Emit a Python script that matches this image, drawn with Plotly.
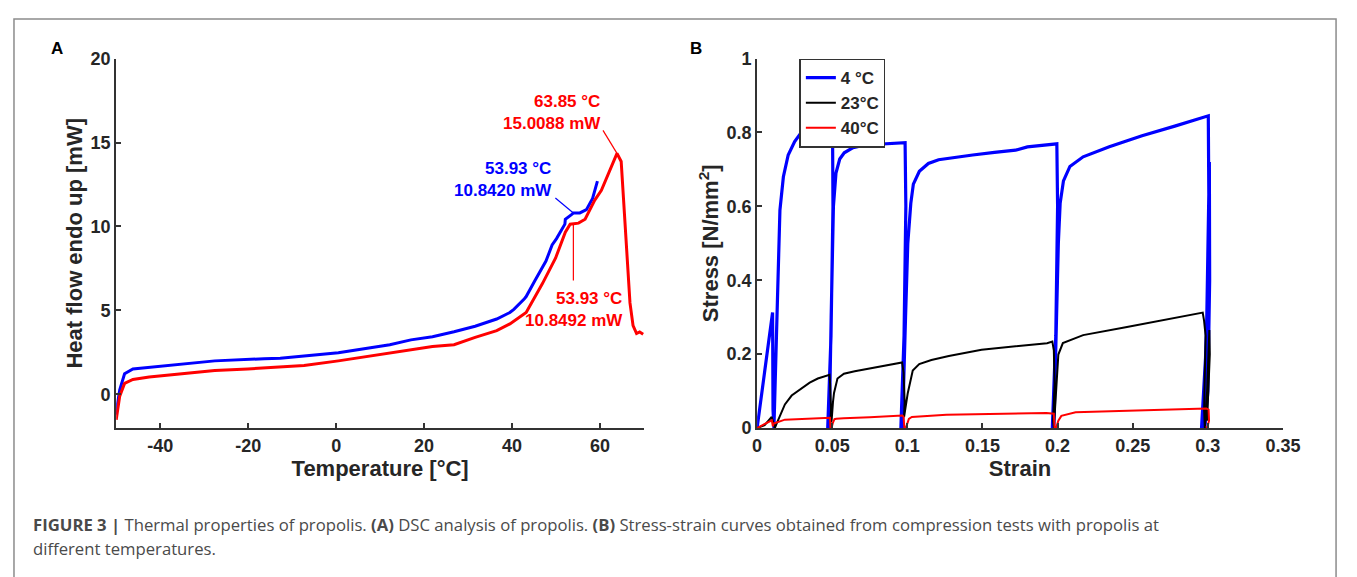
import numpy as np
import plotly.graph_objects as go

# ---------------- Panel A: DSC data ----------------
dsc_blue_T = [-50, -49.9, -49.2, -48.1, -46.2, -42.5, -35, -27.6, -16.4, -12.7, -7.3, 0.5, 12.2, 17.0,
              21.9, 26.8, 31.6, 36.5, 39.5, 40.4, 42.8, 43.2, 45.2, 46.9, 47.7, 49.1, 50.1, 52.0, 52.1,
              53.5, 53.93, 55.4, 56.9, 58.3, 59.4]
dsc_blue_H = [-1.2, -0.87, 0.28, 1.23, 1.52, 1.62, 1.81, 2.0, 2.13, 2.15, 2.29, 2.48, 2.96, 3.25,
              3.44, 3.73, 4.06, 4.49, 4.88, 5.07, 5.7, 5.83, 6.79, 7.55, 7.94, 8.9, 9.28, 10.14, 10.43,
              10.71, 10.8, 10.81, 11.0, 11.67, 12.7]

dsc_red_T = [-50, -49.2, -48.1, -46.2, -42.5, -35, -27.6, -20.1, -12.7, -7.3, 0.5, 12.2, 21.9, 26.8,
             31.6, 36.5, 39.5, 43.2, 46.9, 49.9, 52.1, 53.2, 53.93, 55.1, 56.6, 58.8, 60.3, 63.3, 63.85,
             64.8, 65.2, 66.0, 66.8, 67.5, 68.3, 69.0, 69.8]
dsc_red_H = [-1.5, -0.1, 0.66, 0.89, 1.04, 1.23, 1.43, 1.52, 1.66, 1.72, 2.0, 2.48, 2.86, 2.96,
             3.4, 3.8, 4.2, 4.88, 6.6, 8.13, 9.66, 10.14, 10.18, 10.2, 10.43, 11.57, 12.15, 14.06, 14.35,
             13.87, 12.15, 8.32, 5.45, 4.1, 3.63, 3.72, 3.59]

dsc_xticks = [-40, -20, 0, 20, 40, 60]
dsc_xtext = ["-40", "-20", "0", "20", "40", "60"]
dsc_yticks = [0, 5, 10, 15, 20]

# annotated points (text values as printed in the figure)
peak_T, peak_label = 63.85, "63.85 °C<br>15.0088 mW"
blue_T, blue_label = 53.93, "53.93 °C<br>10.8420 mW"
red_T, red_label = 53.93, "53.93 °C<br>10.8492 mW"

# ---------------- Panel B: stress-strain ----------------
b4_strain = [0, 0.004, 0.0075, 0.0103, 0.0106, 0.0108, 0.0112, 0.0135, 0.0152, 0.0175, 0.0207, 0.025,
             0.0294, 0.035, 0.0404, 0.046, 0.0502,
             0.0505, 0.0492, 0.0470, 0.0480, 0.0493, 0.0502, 0.0508, 0.0525, 0.055, 0.058, 0.0639,
             0.072, 0.085, 0.0985,
             0.0990, 0.0978, 0.0957, 0.0967, 0.0988, 0.1003, 0.1023, 0.104, 0.108, 0.114, 0.1208, 0.13,
             0.1435, 0.158, 0.172, 0.1799, 0.1995,
             0.2000, 0.1988, 0.1965, 0.1975, 0.1993, 0.2005, 0.2017, 0.2039, 0.2082, 0.217, 0.2344,
             0.2562, 0.278, 0.2998, 0.3003,
             0.3007, 0.2993, 0.2958, 0.2970, 0.2993, 0.301, 0.3012, 0.300, 0.2980]
b4_stress = [0, 0.12, 0.23, 0.313, 0.05, 0.0, 0.0, 0.34, 0.59, 0.68, 0.739, 0.775,
             0.80, 0.81, 0.813, 0.815, 0.818,
             0.6, 0.25, 0.0, 0.0, 0.3, 0.5, 0.6, 0.69, 0.728, 0.745, 0.759,
             0.766, 0.769, 0.772,
             0.6, 0.25, 0.0, 0.0, 0.3, 0.5, 0.608, 0.66, 0.695, 0.716, 0.726, 0.732,
             0.739, 0.746, 0.752, 0.761, 0.769,
             0.6, 0.25, 0.0, 0.0, 0.3, 0.5, 0.608, 0.669, 0.708, 0.734, 0.761,
             0.791, 0.817, 0.843, 0.845,
             0.6, 0.25, 0.0, 0.0, 0.3, 0.72, 0.4, 0.1, 0.0]

b23_strain = [0, 0.005, 0.0097, 0.0108, 0.0118, 0.013, 0.0155, 0.0185, 0.023, 0.0294, 0.035, 0.0404,
              0.0469, 0.0482,
              0.0486, 0.0492, 0.0488, 0.0496, 0.0505, 0.0512, 0.0535, 0.0578, 0.065, 0.0731, 0.085,
              0.0965,
              0.0975, 0.0982, 0.0978, 0.0988, 0.1003, 0.1036, 0.1079, 0.116, 0.1276, 0.1494, 0.172,
              0.193, 0.1965,
              0.1975, 0.198, 0.197, 0.1975, 0.199, 0.2005, 0.2035, 0.217, 0.2453, 0.27, 0.2955, 0.2966,
              0.2975, 0.2985, 0.2975, 0.298, 0.2995, 0.301, 0.3013, 0.2995]
b23_stress = [0, 0.008, 0.03, 0.012, 0.0, 0.012, 0.038, 0.064, 0.088, 0.108, 0.123, 0.134,
              0.143, 0.144,
              0.12, 0.05, 0.015, 0.02, 0.07, 0.095, 0.134, 0.147, 0.154, 0.160, 0.169,
              0.1775,
              0.15, 0.07, 0.03, 0.06, 0.095, 0.156, 0.173, 0.184, 0.195, 0.212, 0.222,
              0.2298, 0.234,
              0.21, 0.12, 0.02, 0.0, 0.1, 0.199, 0.2298, 0.2515, 0.273, 0.292, 0.3107, 0.3125,
              0.29, 0.25, 0.05, 0.0, 0.1, 0.265, 0.2, 0.02]

b40_strain = [0, 0.005, 0.0098, 0.0105, 0.011, 0.0185, 0.03, 0.0468, 0.0485, 0.0488, 0.0495, 0.0505,
              0.0515, 0.0527, 0.0576, 0.075, 0.0967, 0.0975, 0.098, 0.099, 0.1, 0.101, 0.103, 0.126,
              0.1925, 0.1975, 0.198, 0.199, 0.2005, 0.2025, 0.212, 0.299, 0.3005, 0.3008, 0.2995, 0.299]
b40_stress = [0, 0.01, 0.021, 0.005, 0.012, 0.0227, 0.025, 0.0296, 0.028, 0.0, 0.0, 0.015,
              0.024, 0.025, 0.0265, 0.029, 0.034, 0.03, 0.0, 0.0, 0.015, 0.025, 0.030, 0.036,
              0.041, 0.039, 0.0, 0.0, 0.02, 0.033, 0.043, 0.053, 0.05, 0.02, 0.0, 0.005]

ss_xticks = [0, 0.05, 0.1, 0.15, 0.2, 0.25, 0.3, 0.35]
ss_xtext = ["0", "0.05", "0.1", "0.15", "0.2", "0.25", "0.3", "0.35"]
ss_yticks = [0, 0.2, 0.4, 0.6, 0.8, 1]
ss_ytext = ["0", "0.2", "0.4", "0.6", "0.8", "1"]

caption_1 = ("<b>FIGURE 3 |</b> Thermal properties of propolis. <b>(A)</b> DSC analysis of propolis. "
             "<b>(B)</b> Stress-strain curves obtained from compression tests with propolis at")
caption_2 = "different temperatures."

# ---------------- Figure ----------------
# The page body keeps its default 8 px margin, so the figure is 8 px smaller on each side
# and all layout positions below are expressed in window pixels.
PAGE_W, PAGE_H, OFF = 1357, 577, 8
W, H = PAGE_W - OFF, PAGE_H - OFF
BLUE, RED, BLACK = "#0000ff", "#ff0000", "#000000"
AX = "#333333"
TXT = "#262626"
FONT = "Liberation Sans, Arial, sans-serif"


def px_x(p):
    return (p - OFF) / W


def px_y(p):
    return 1 - (p - OFF) / H


fig = go.Figure()
fig.add_trace(go.Scatter(x=dsc_blue_T, y=dsc_blue_H, mode="lines", line=dict(color=BLUE, width=3),
                         showlegend=False, xaxis="x", yaxis="y"))
fig.add_trace(go.Scatter(x=dsc_red_T, y=dsc_red_H, mode="lines", line=dict(color=RED, width=3),
                         showlegend=False, xaxis="x", yaxis="y"))

fig.add_trace(go.Scatter(x=b4_strain, y=b4_stress, mode="lines", name="4 °C",
                         line=dict(color=BLUE, width=3.2), xaxis="x2", yaxis="y2"))
fig.add_trace(go.Scatter(x=b23_strain, y=b23_stress, mode="lines", name="23°C",
                         line=dict(color=BLACK, width=2), xaxis="x2", yaxis="y2"))
fig.add_trace(go.Scatter(x=b40_strain, y=b40_stress, mode="lines", name="40°C",
                         line=dict(color=RED, width=2), xaxis="x2", yaxis="y2"))

axis_common = dict(showline=True, linecolor=AX, linewidth=2, ticks="inside", ticklen=5,
                   tickwidth=1.5, tickcolor=AX, showgrid=False, zeroline=False, mirror=False,
                   tickfont=dict(family=FONT, size=18, color=TXT, weight="bold"))
title_font = dict(family=FONT, size=22, color=TXT, weight="bold")

fig.update_layout(
    width=W, height=H, margin=dict(l=0, r=0, t=0, b=0),
    paper_bgcolor="white", plot_bgcolor="white",
    xaxis=dict(domain=[px_x(113), px_x(650)], range=[-50, 70], tickvals=dsc_xticks,
               ticktext=dsc_xtext, anchor="y",
               title=dict(text="Temperature [°C]", font=title_font, standoff=4),
               **axis_common),
    yaxis=dict(domain=[px_y(433), px_y(50)], range=[-2, 20], tickvals=dsc_yticks,
               anchor="x", title=dict(text="Heat flow endo up [mW]", font=title_font, standoff=2),
               **axis_common),
    xaxis2=dict(domain=[px_x(765), px_x(1300)], range=[0, 0.35], tickvals=ss_xticks,
                ticktext=ss_xtext, anchor="y2",
                title=dict(text="Strain", font=title_font, standoff=4), **axis_common),
    yaxis2=dict(domain=[px_y(433), px_y(50)], range=[0, 1], tickvals=ss_yticks,
                ticktext=ss_ytext, anchor="x2",
                title=dict(text="Stress [N/mm<sup>2</sup>]", font=title_font, standoff=2),
                **axis_common),
    legend=dict(x=px_x(808), y=px_y(50), xanchor="left", yanchor="top",
                bgcolor="white", bordercolor=AX, borderwidth=1.5,
                font=dict(family=FONT, size=17, color=TXT, weight="bold"),
                itemwidth=30, tracegroupgap=0),
    showlegend=True,
)

ann_font_r = dict(family=FONT, size=17, color=RED, weight="bold")
ann_font_b = dict(family=FONT, size=17, color=BLUE, weight="bold")

peak_H = float(np.interp(peak_T, dsc_red_T, dsc_red_H))
blue_H = float(np.interp(blue_T, dsc_blue_T, dsc_blue_H))
red_H = float(np.interp(red_T, dsc_red_T, dsc_red_H))

# leader lines, anchored at the annotated curve points (pixel offsets)
for (xx, yy, dx, dy, col) in [(peak_T, peak_H, -14, 23, RED),
                              (blue_T, blue_H, -18, 15, BLUE),
                              (red_T, red_H, 0, -57, RED)]:
    fig.add_shape(type="line", xref="x", yref="y", xsizemode="pixel", ysizemode="pixel",
                  xanchor=xx, yanchor=yy, x0=0, y0=0, x1=dx, y1=dy,
                  line=dict(color=col, width=1.2))

# labels
fig.add_annotation(x=60.6, y=16.8, xref="x", yref="y", text=peak_label, showarrow=False,
                   xanchor="right", yanchor="middle", align="right", font=ann_font_r)
fig.add_annotation(x=49.5, y=12.8, xref="x", yref="y", text=blue_label, showarrow=False,
                   xanchor="right", yanchor="middle", align="right", font=ann_font_b)
fig.add_annotation(x=65.6, y=5.05, xref="x", yref="y", text=red_label, showarrow=False,
                   xanchor="right", yanchor="middle", align="right", font=ann_font_r)

# panel letters
for letter, xp in [("A", 53), ("B", 703)]:
    fig.add_annotation(x=px_x(xp), y=px_y(40), xref="paper", yref="paper", text=letter,
                       showarrow=False, xanchor="center", yanchor="middle",
                       font=dict(family=FONT, size=17, color="#000000", weight="bold"))

# caption
cap_font = dict(family="Open Sans, Liberation Sans, sans-serif", size=16.7, color="#4a4a4a")
fig.add_annotation(x=px_x(26), y=px_y(533), xref="paper", yref="paper", text=caption_1,
                   showarrow=False, xanchor="left", yanchor="middle", align="left", font=cap_font)
fig.add_annotation(x=px_x(26), y=px_y(558), xref="paper", yref="paper", text=caption_2,
                   showarrow=False, xanchor="left", yanchor="middle", align="left", font=cap_font)

# outer frame
fig.add_shape(type="rect", xref="paper", yref="paper", x0=1 / W, x1=px_x(1354),
              y0=-0.05, y1=1 - 1 / H, line=dict(color="#8c8c8c", width=1.5),
              fillcolor="rgba(0,0,0,0)")

fig.write_html("out.html", config={"displayModeBar": False})
